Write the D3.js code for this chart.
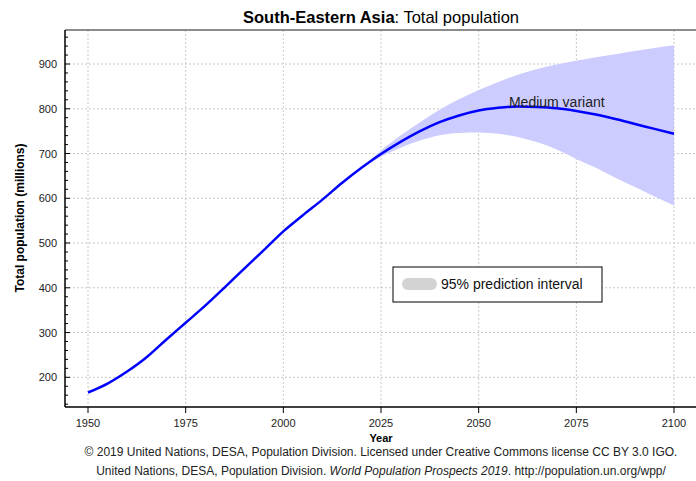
<!DOCTYPE html>
<html>
<head>
<meta charset="utf-8">
<script src="https://cdn.jsdelivr.net/npm/d3@7"></script>
<style>
  body { margin: 0; background: #fff; }
  svg { font-family: "Liberation Sans", Arial, sans-serif; }
  .grid line { stroke: #c8c8c8; stroke-dasharray: 2,2; }
  .tick-label { font-size: 11px; fill: #222; }
</style>
</head>
<body>
<div id="chart"></div>
<script>
// Population estimates and medium variant (millions)
const years = [1950, 1955, 1960, 1965, 1970, 1975, 1980, 1985, 1990, 1995, 2000, 2005, 2010, 2015, 2020,
    2025, 2030, 2035, 2040, 2045, 2050, 2055, 2060, 2065, 2070, 2075, 2080, 2085, 2090, 2095, 2100];
const medium = [166, 186, 213, 245, 284, 322, 360, 401, 443, 484, 526, 562, 597, 634, 668,
    699, 726, 750, 770, 785, 796, 802, 805, 804, 801, 795, 787, 777, 766, 755, 744];

// 95% prediction interval, from 2020
const piYears = [2020, 2025, 2030, 2035, 2040, 2045, 2050, 2055, 2060, 2065, 2070, 2075, 2080, 2085, 2090, 2095, 2100];
const piLower = [668, 693, 713, 729, 741, 746, 747, 744, 737, 725, 709, 688, 668, 646, 625, 604, 584];
const piUpper = [668, 707, 740, 770, 798, 821, 842, 860, 876, 889, 899, 907, 915, 922, 929, 936, 942];

const xTicks = [1950, 1975, 2000, 2025, 2050, 2075, 2100];
const yTicks = [200, 300, 400, 500, 600, 700, 800, 900];

const W = 696, H = 481;
const margin = {top: 30, left: 65, bottom: 74, right: -6};
const width = W - margin.left - margin.right,
    height = H - margin.top - margin.bottom;

const x = d3.scaleLinear().domain([1950, 2100]).range([23, 609]);
const y = d3.scaleLinear().domain([200, 900]).range([347.3, 34]);

const svg = d3.select("#chart").append("svg")
    .attr("width", W)
    .attr("height", H);

const g = svg.append("g")
    .attr("transform", "translate(" + margin.left + "," + margin.top + ")");

// grille
const grid = g.append("g").attr("class", "grid");
grid.selectAll("line.v").data(xTicks).enter().append("line")
    .attr("x1", d => x(d)).attr("x2", d => x(d))
    .attr("y1", 0).attr("y2", height);
grid.selectAll("line.h").data(yTicks).enter().append("line")
    .attr("x1", 0).attr("x2", width)
    .attr("y1", d => y(d)).attr("y2", d => y(d));

// intervalle de prédiction
const pi = piYears.map((yr, i) => ({year: yr, lo: piLower[i], hi: piUpper[i]}));
g.append("path")
    .datum(pi)
    .attr("fill", "#ccccff")
    .attr("d", d3.area().curve(d3.curveMonotoneX)
        .x(d => x(d.year)).y0(d => y(d.lo)).y1(d => y(d.hi)));

// variante moyenne
const data = years.map((yr, i) => ({year: yr, value: medium[i]}));
g.append("path")
    .datum(data)
    .attr("fill", "none")
    .attr("stroke", "#0000ff")
    .attr("stroke-width", 2.5)
    .attr("stroke-linejoin", "round")
    .attr("d", d3.line().curve(d3.curveMonotoneX).x(d => x(d.year)).y(d => y(d.value)));

g.append("text")
    .attr("x", x(2070))
    .attr("y", y(805) + 0.5)
    .attr("text-anchor", "middle")
    .style("font-size", "14px")
    .attr("fill", "#222")
    .text("Medium variant");

// cadre
g.append("line").attr("x1", 0).attr("x2", width).attr("y1", 0).attr("y2", 0)
    .attr("stroke", "#666").attr("stroke-width", 1.5);

// axe Y
const yAxis = g.append("g");
yAxis.append("line").attr("x1", 0).attr("x2", 0).attr("y1", 0).attr("y2", height)
    .attr("stroke", "#000").attr("stroke-width", 1.5);
yAxis.selectAll("line.minor").data(d3.range(140, 980, 20)).enter().append("line")
    .attr("x1", 0).attr("x2", d => d % 100 === 0 ? 5 : 3)
    .attr("y1", d => y(d)).attr("y2", d => y(d))
    .attr("stroke", "#000");
yAxis.selectAll("text").data(yTicks).enter().append("text")
    .attr("class", "tick-label")
    .attr("x", -8)
    .attr("y", d => y(d) + 4)
    .attr("text-anchor", "end")
    .text(d => d);

// axe X
const xAxis = g.append("g").attr("transform", "translate(0," + height + ")");
xAxis.append("line").attr("x1", 0).attr("x2", width).attr("y1", 0).attr("y2", 0)
    .attr("stroke", "#000").attr("stroke-width", 1.5);
xAxis.selectAll("line.t").data(xTicks).enter().append("line")
    .attr("x1", d => x(d)).attr("x2", d => x(d))
    .attr("y1", 0).attr("y2", 6)
    .attr("stroke", "#000");
xAxis.selectAll("text").data(xTicks).enter().append("text")
    .attr("class", "tick-label")
    .attr("x", d => x(d))
    .attr("y", 20)
    .attr("text-anchor", "middle")
    .text(d => d);

// légende
const legend = svg.append("g").attr("transform", "translate(393,267)");
legend.append("rect").attr("width", 209).attr("height", 35)
    .attr("fill", "#fff").attr("stroke", "#000");
legend.append("rect").attr("x", 9).attr("y", 11).attr("width", 35).attr("height", 12)
    .attr("rx", 6).attr("fill", "#d3d3d3");
legend.append("text").attr("x", 48).attr("y", 22)
    .style("font-size", "14px").attr("fill", "#111")
    .text("95% prediction interval");

// titres
const title = svg.append("text")
    .attr("x", 381).attr("y", 23)
    .attr("text-anchor", "middle")
    .style("font-size", "16.5px");
title.append("tspan").style("font-weight", "bold").text("South-Eastern Asia");
title.append("tspan").text(": Total population");

svg.append("text")
    .attr("transform", "translate(24,218) rotate(-90)")
    .attr("text-anchor", "middle")
    .style("font-size", "12px").style("font-weight", "bold")
    .text("Total population (millions)");

svg.append("text")
    .attr("x", 381).attr("y", 442)
    .attr("text-anchor", "middle")
    .style("font-size", "11px").style("font-weight", "bold")
    .text("Year");

svg.append("text")
    .attr("x", 381).attr("y", 456)
    .attr("text-anchor", "middle")
    .style("font-size", "12px").attr("fill", "#222")
    .text("© 2019 United Nations, DESA, Population Division. Licensed under Creative Commons license CC BY 3.0 IGO.");

const foot = svg.append("text")
    .attr("x", 381).attr("y", 475)
    .attr("text-anchor", "middle")
    .style("font-size", "12px").attr("fill", "#222");
foot.append("tspan").text("United Nations, DESA, Population Division. ");
foot.append("tspan").style("font-style", "italic").text("World Population Prospects 2019");
foot.append("tspan").text(". http://population.un.org/wpp/");
</script>
</body>
</html>
